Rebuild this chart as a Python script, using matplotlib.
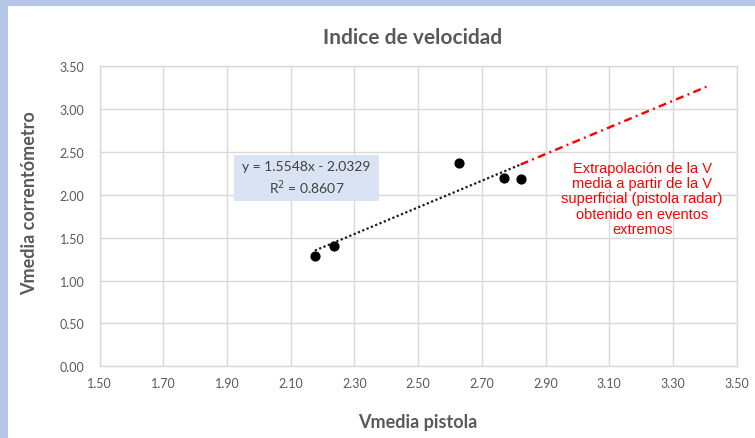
import matplotlib
matplotlib.use("Agg")
import matplotlib.pyplot as plt
from matplotlib.patches import Rectangle
import numpy as np

# ---- data ----
vmedia_pistola = [2.176, 2.235, 2.627, 2.770, 2.822]
vmedia_correntometro = [1.29, 1.407, 2.372, 2.194, 2.186]
trend_slope = 1.5548
trend_intercept = -2.0329
extrap_x = [2.822, 3.405]
x_ticks = [1.50, 1.70, 1.90, 2.10, 2.30, 2.50, 2.70, 2.90, 3.10, 3.30, 3.50]
y_ticks = [0.00, 0.50, 1.00, 1.50, 2.00, 2.50, 3.00, 3.50]
title = "Indice de velocidad"
xlabel = "Vmedia pistola"
ylabel = "Vmedia correntómetro"
eq_text = "y = 1.5548x - 2.0329\nR$^2$ = 0.8607"
note_text = ("Extrapolación de la V\nmedia a partir de la V\nsuperficial (pistola radar)\n"
             "obtenido en eventos\nextremos")

W, H = 755, 439
fig = plt.figure(figsize=(W / 100, H / 100), dpi=100)
fig.patch.set_facecolor("white")
frame_c = "#B4C7E7"
fig.patches.append(Rectangle((0, 1 - 7 / H), 1, 7 / H, transform=fig.transFigure,
                             facecolor=frame_c, edgecolor="none", zorder=0))
fig.patches.append(Rectangle((0, 0), 8 / W, 1, transform=fig.transFigure,
                             facecolor=frame_c, edgecolor="none", zorder=0))

left, right, top, bottom = 99.5, 736.7, 67.3, 367.3
ax = fig.add_axes([left / W, 1 - bottom / H, (right - left) / W, (bottom - top) / H])
ax.set_zorder(2)
ax.set_facecolor("white")

grid_c = "#D9D9D9"
text_c = "#595959"
font = "Lato"

ax.set_xlim(1.5, 3.5)
ax.set_ylim(0, 3.5)
ax.set_xticks(x_ticks)
ax.set_yticks(y_ticks)
ax.set_xticklabels([f"{v:.2f}" for v in x_ticks], fontsize=9, color=text_c, family=font)
ax.set_yticklabels([f"{v:.2f}" for v in y_ticks], fontsize=9, color=text_c, family=font)
ax.tick_params(axis="both", length=0)
ax.tick_params(axis="x", pad=8)
ax.tick_params(axis="y", pad=11)
ax.grid(True, color=grid_c, linewidth=1)
ax.set_axisbelow(True)
for s in ax.spines.values():
    s.set_color(grid_c)
    s.set_linewidth(1)

# trendline
tx = np.array([min(vmedia_pistola), max(vmedia_pistola)])
ax.plot(tx, trend_slope * tx + trend_intercept, color="#1a1a1a", linewidth=1.6,
        linestyle=(0, (1, 1.1)), zorder=3)
# extrapolation
ex = np.array(extrap_x)
ax.plot(ex, trend_slope * ex + trend_intercept, color="#FF0000", linewidth=1.75,
        linestyle=(0, (3.3, 1.8, 0.8, 1.8)), zorder=3)
# points
ax.scatter(vmedia_pistola, vmedia_correntometro, s=40, color="black", zorder=4)

# equation box
bx0, bx1, by0, by1 = 1.923, 2.377, 1.932, 2.466
ax.add_patch(Rectangle((bx0, by0), bx1 - bx0, by1 - by0, facecolor="#DAE3F3",
                       edgecolor="none", zorder=5))
ax.text((bx0 + bx1) / 2, (by0 + by1) / 2, eq_text, ha="center", va="center",
        fontsize=10, color="#404040", family=font, linespacing=1.35, zorder=6)

# note
ax.text(3.203, 1.958, note_text, ha="center", va="center", fontsize=10.5, color="#FF0000",
        family="Liberation Sans", linespacing=1.12, zorder=6)

fig.text(413 / W, 1 - 38 / H, title, ha="center", va="center", fontsize=15,
         fontweight="bold", color=text_c, family=font)
fig.text(418 / W, 1 - 423 / H, xlabel, ha="center", va="center", fontsize=13,
         fontweight="bold", color=text_c, family=font)
fig.text(30 / W, 1 - 203 / H, ylabel, ha="center", va="center", fontsize=13,
         fontweight="bold", color=text_c, family=font, rotation=90)

fig.savefig("out.png", dpi=100)
